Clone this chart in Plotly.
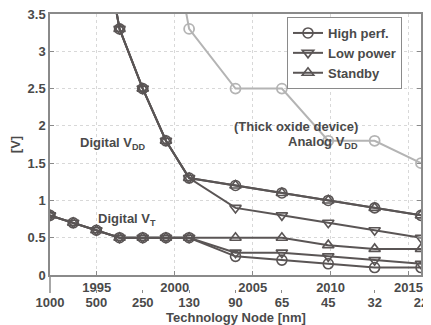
import plotly.graph_objects as go

# ---- data ----
node_slots = [1000, 700, 500, 350, 250, 180, 130, 110, 90, 80, 65, 55, 45, 38, 32, 27, 22]
tick_nodes = [1000, 500, 250, 130, 90, 65, 45, 32, 22]
years = [1995, 2000, 2005, 2010, 2015]

vdd_nodes = [500, 350, 250, 180, 130, 90, 65, 45, 32, 22]
vt_nodes = [1000, 700, 500, 350, 250, 180, 130, 90, 65, 45, 32, 22]

hp_vdd = [5.0, 3.3, 2.5, 1.8, 1.3, 1.2, 1.1, 1.0, 0.9, 0.8]
lp_vdd = [5.0, 3.3, 2.5, 1.8, 1.3, 0.9, 0.8, 0.7, 0.6, 0.5]
sb_vdd = [5.0, 3.3, 2.5, 1.8, 1.3, 1.2, 1.1, 1.0, 0.9, 0.8]

hp_vt = [0.8, 0.7, 0.6, 0.5, 0.5, 0.5, 0.5, 0.25, 0.2, 0.15, 0.1, 0.1]
lp_vt = [0.8, 0.7, 0.6, 0.5, 0.5, 0.5, 0.5, 0.3, 0.3, 0.25, 0.2, 0.15]
sb_vt = [0.8, 0.7, 0.6, 0.5, 0.5, 0.5, 0.5, 0.5, 0.5, 0.4, 0.35, 0.35]

analog_nodes = [180, 130, 90, 65, 45, 32, 22]
analog_vdd = [5.0, 3.3, 2.5, 2.5, 1.8, 1.8, 1.5]

y_ticks = [0, 0.5, 1, 1.5, 2, 2.5, 3, 3.5]
y_ticktext = ["0", "0.5", "1", "1.5", "2", "2.5", "3", "3.5"]

series = [
    ("High perf.", "circle-open", hp_vdd, hp_vt),
    ("Low power", "triangle-down-open", lp_vdd, lp_vt),
    ("Standby", "triangle-up-open", sb_vdd, sb_vt),
]

def pos(nodes):
    return [node_slots.index(n) for n in nodes]

DARK = "#5a5555"
LIGHT = "#b4b4b4"
TEXT = "#4a4a4a"
AXIS = "#8a8a8a"
FONT = "Liberation Sans, Arial, sans-serif"

fig = go.Figure()

# invisible trace so that the year axis is drawn
fig.add_trace(go.Scatter(x=years, y=[0] * len(years), mode="markers", marker=dict(opacity=0),
                         showlegend=False, hoverinfo="skip", xaxis="x2", yaxis="y"))

fig.add_trace(go.Scatter(
    x=pos(analog_nodes), y=analog_vdd, mode="lines+markers",
    line=dict(color=LIGHT, width=2),
    marker=dict(symbol="circle-open", size=10, color=LIGHT, line=dict(width=1.8, color=LIGHT)),
    showlegend=False, xaxis="x", yaxis="y"))

for name, sym, vdd, vt in series:
    x = pos(vdd_nodes) + [None] + pos(vt_nodes)
    y = vdd + [None] + vt
    fig.add_trace(go.Scatter(
        x=x, y=y, mode="lines+markers", name=name,
        line=dict(color=DARK, width=2),
        marker=dict(symbol=sym, size=10, color=DARK, line=dict(width=1.6, color=DARK)),
        xaxis="x", yaxis="y"))

ann = dict(xref="x", yref="y", showarrow=False, font=dict(size=13, color=TEXT, family=FONT, weight="bold"))
fig.add_annotation(x=2.7, y=1.77, text="Digital V<sub>DD</sub>", xanchor="center", **ann)
fig.add_annotation(x=2.0, y=0.75, text="Digital V<sub>T</sub>", xanchor="left", **ann)
fig.add_annotation(x=10.6, y=1.99, text="(Thick oxide device)", xanchor="center", **ann)
fig.add_annotation(x=13.37, y=1.78, text="Analog V<sub>DD</sub>", xanchor="right", **ann)

# page body has an 8px margin: lay the figure out 8px smaller
W, H = 423, 317
plot_top, plot_bottom, strip_bottom = 6, 267, 285
paper_h = strip_bottom - plot_top
y_dom0 = (strip_bottom - plot_bottom) / paper_h

fig.add_annotation(xref="paper", yref="paper", x=0.5, y=-24 / paper_h, yanchor="middle",
                   text="Technology Node [nm]", showarrow=False,
                   font=dict(size=13, color=TEXT, family=FONT, weight="bold"))

fig.update_layout(
    width=W, height=H,
    margin=dict(l=42, r=10, t=plot_top, b=H - strip_bottom),
    paper_bgcolor="white", plot_bgcolor="white",
    font=dict(family=FONT, size=13, color=TEXT, weight="bold"),
    xaxis=dict(
        range=[0, len(node_slots) - 1], anchor="free", position=0,
        tickmode="array", tickvals=pos(tick_nodes), ticktext=[str(n) for n in tick_nodes],
        ticks="inside", ticklen=3, tickcolor=AXIS, showgrid=False, showline=False,
        zeroline=False, automargin=False, ticklabelstandoff=0, ticklabeloverflow="allow",
    ),
    xaxis2=dict(
        range=[1992, 2015.8], overlaying="x", anchor="y", side="bottom",
        tickmode="array", tickvals=years, ticks="inside", ticklen=4, tickcolor=AXIS,
        showgrid=True, gridcolor="#d8d8d8", griddash="dot", gridwidth=1,
        showline=True, linecolor=AXIS, linewidth=1.5, mirror=True,
        zeroline=False, automargin=False, ticklabeloverflow="allow",
    ),
    yaxis=dict(
        range=[0, 3.5001], domain=[y_dom0, 1],
        tickmode="array", tickvals=y_ticks, ticktext=y_ticktext,
        ticks="inside", ticklen=4, tickcolor=AXIS,
        showgrid=True, gridcolor="#d8d8d8", griddash="dot", gridwidth=1,
        showline=True, linecolor=AXIS, linewidth=1.5, mirror="ticks",
        zeroline=False, automargin=False, ticklabeloverflow="allow",
        title=dict(text="[V]", standoff=12, font=dict(size=13)),
    ),
    legend=dict(
        x=(287 - 50) / 371, y=(293 - 17) / paper_h, xanchor="left", yanchor="top",
        bgcolor="white", bordercolor=AXIS, borderwidth=1,
        font=dict(size=13, color=TEXT), tracegroupgap=0,
    ),
    showlegend=True,
)

fig.add_shape(type="line", xref="paper", yref="paper", x0=0, x1=0, y0=0, y1=y_dom0,
              line=dict(color=AXIS, width=1.5))

fig.write_html("out.html")
